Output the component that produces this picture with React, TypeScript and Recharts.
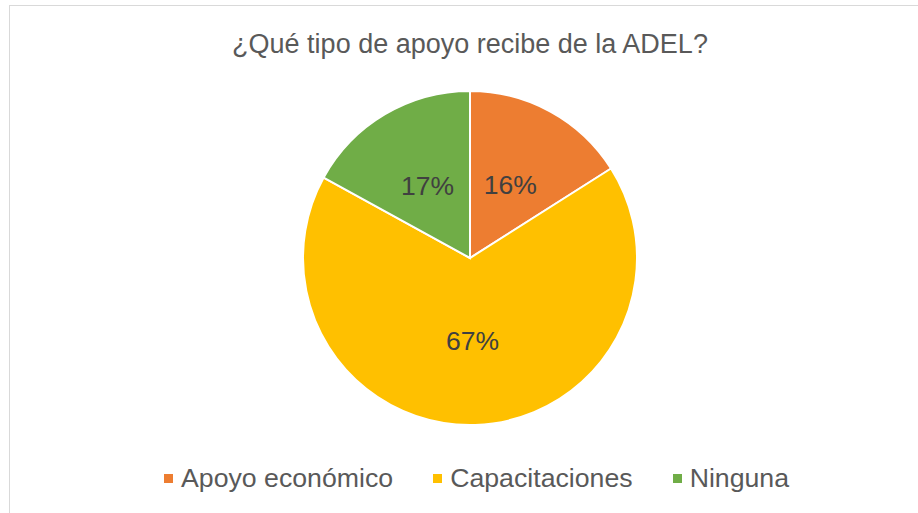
import { PieChart, Pie, Cell, Legend } from "recharts"

const categories = ["Apoyo económico", "Capacitaciones", "Ninguna"]
const values = [16, 67, 17]
const colors = ["#ED7D31", "#FFC000", "#70AD47"]

const data = categories.map((name, i) => ({ name, value: values[i] }))

const RADIAN = Math.PI / 180
const FONT = "'Liberation Sans', Arial, sans-serif"

const renderLabel = (props: any) => {
  const { cx, cy, midAngle, outerRadius, percent } = props
  const r = outerRadius * 0.5
  const x = cx + r * Math.cos(-midAngle * RADIAN)
  const y = cy + r * Math.sin(-midAngle * RADIAN)
  return (
    <text x={x} y={y} fill="#404040" fontSize={26.5} fontFamily={FONT} textAnchor="middle" dominantBaseline="central">
      {`${Math.round(percent * 100)}%`}
    </text>
  )
}

const renderLegend = () => (
  <div style={{ display: "flex", paddingLeft: 164, fontFamily: FONT, fontSize: 26.7, lineHeight: "30px", color: "#595959" }}>
    {categories.map((c, i) => (
      <div key={c} style={{ display: "flex", alignItems: "center", marginRight: 40 }}>
        <span style={{ width: 9, height: 9, background: colors[i], marginRight: 8, display: "inline-block" }} />
        <span>{c}</span>
      </div>
    ))}
  </div>
)

export default function App() {
  return (
    <div style={{ position: "absolute", left: 0, top: 0, width: 918, height: 513, background: "#fff", overflow: "hidden" }}>
      <div style={{ position: "absolute", left: 9, top: 5, width: 930, height: 530, border: "1px solid #D9D9D9" }} />
      <div
        style={{
          position: "absolute",
          left: 0,
          width: 940,
          top: 28,
          textAlign: "center",
          fontFamily: FONT,
          fontSize: 27,
          color: "#595959",
          lineHeight: "32px",
        }}
      >
        ¿Qué tipo de apoyo recibe de la ADEL?
      </div>
      <PieChart
        width={918}
        height={513}
        margin={{ top: 0, right: 0, bottom: 0, left: 0 }}
        style={{ position: "absolute", left: 0, top: 0 }}
      >
        <Pie
          data={data}
          dataKey="value"
          nameKey="name"
          cx={470}
          cy={258}
          outerRadius={167}
          startAngle={90}
          endAngle={-270}
          stroke="#fff"
          strokeWidth={2}
          label={renderLabel}
          labelLine={false}
          isAnimationActive={false}
        >
          {data.map((d, i) => (
            <Cell key={d.name} fill={colors[i]} />
          ))}
        </Pie>
        <Legend
          content={renderLegend}
          wrapperStyle={{ position: "absolute", left: 0, width: 918, top: 463 }}
        />
      </PieChart>
    </div>
  )
}
